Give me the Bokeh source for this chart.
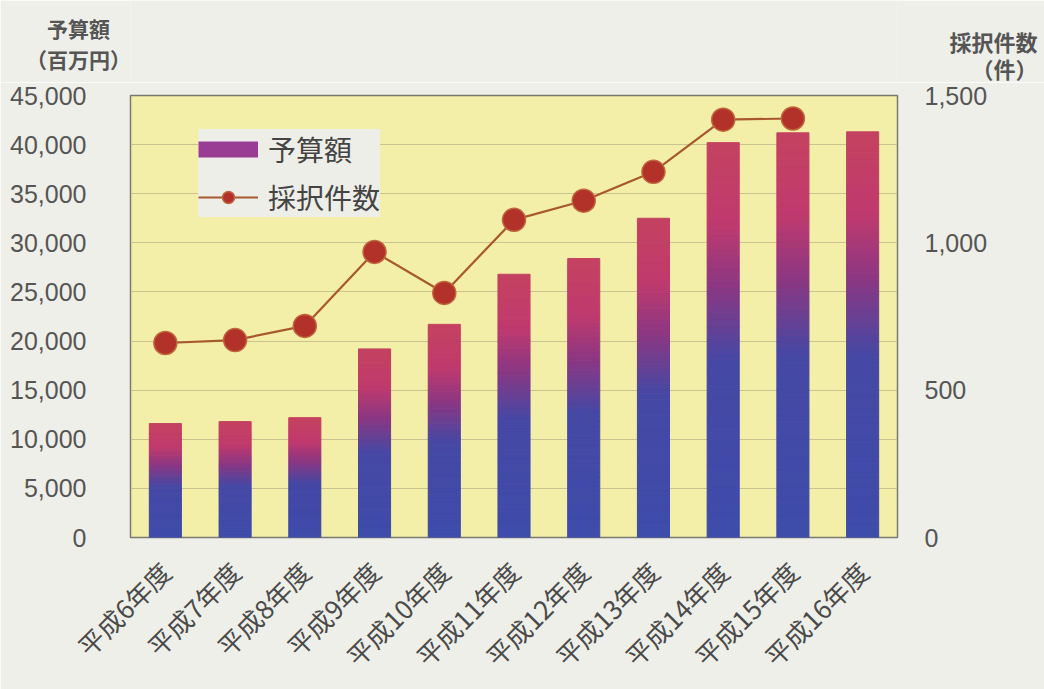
import numpy as np
from bokeh.plotting import figure
from bokeh.layouts import column
from bokeh.models import (FactorRange, Range1d, LinearAxis, FixedTicker, NumeralTickFormatter,
                          Label, Legend, LegendItem, ColumnDataSource)
from bokeh.embed import file_html
from bokeh.resources import INLINE

# ---- data ----
years = ["平成6年度", "平成7年度", "平成8年度", "平成9年度", "平成10年度", "平成11年度",
         "平成12年度", "平成13年度", "平成14年度", "平成15年度", "平成16年度"]
budget = [11600, 11800, 12200, 19200, 21700, 26800, 28400, 32500, 40200, 41200, 41300]
count_years = years[:10]
counts = [660, 670, 718, 969, 830, 1078, 1143, 1241, 1418, 1422]
left_ticks = [0, 5000, 10000, 15000, 20000, 25000, 30000, 35000, 40000, 45000]
right_ticks = [0, 500, 1000, 1500]

BG = "#efefe9"
W = 1044
TOP_H = 82
MAIN_H = 689 - TOP_H
FL, FR = 130, 147   # frame borders (left, right)

# ---- header strip with the axis titles (frames of both figures are aligned) ----
top = figure(width=W, height=TOP_H, output_backend="svg", toolbar_location=None,
             x_range=Range1d(FL, W - FR), y_range=Range1d(TOP_H, 0),
             x_axis_type=None, y_axis_type=None, min_border=0,
             background_fill_color=BG, border_fill_color=BG, outline_line_color=None)
top.grid.grid_line_color = None

top.add_layout(Label(x=78, y=43, text="予算額\n（百万円）", text_font="Noto Sans CJK JP",
                     text_font_size="21px", text_color="#555555", text_font_style="bold",
                     text_align="center", text_baseline="middle", text_line_height=1.05), "left")
top.add_layout(Label(x=1037, y=54, text="採択件数\n（件）", text_font="Noto Sans CJK JP",
                     text_font_size="22px", text_color="#555555", text_font_style="bold",
                     text_align="right", text_baseline="middle", text_line_height=0.85), "right")

# ---- main chart ----
p = figure(width=W, height=MAIN_H, output_backend="svg", toolbar_location=None,
           x_range=FactorRange(*years, range_padding=0), y_range=Range1d(0, 45000),
           min_border_left=FL, min_border_right=FR, min_border_top=95 - TOP_H,
           min_border_bottom=152)
p.extra_y_ranges = {"cnt": Range1d(0, 1500)}

p.background_fill_color = "#f3eea8"
p.border_fill_color = BG
p.outline_line_color = "#7a7a70"
p.outline_line_width = 1.5

# gradient bars (stacked thin segments from blue to pink-red)
def grad_color(t):
    stops = [(0.0, (62, 76, 170)), (0.45, (70, 72, 165)), (0.64, (140, 55, 130)),
             (0.8, (192, 58, 110)), (1.0, (196, 66, 96))]
    for (t0, c0), (t1, c1) in zip(stops[:-1], stops[1:]):
        if t <= t1:
            f = (t - t0) / (t1 - t0) if t1 > t0 else 0
            c = [int(round(a + (b - a) * f)) for a, b in zip(c0, c1)]
            return "#%02x%02x%02x" % tuple(c)
    return "#%02x%02x%02x" % stops[-1][1]

N = 60
xs, bots, tops, cols = [], [], [], []
for cat, v in zip(years, budget):
    for i in range(N):
        xs.append(cat)
        bots.append(v * i / N)
        tops.append(v * (i + 1) / N)
        cols.append(grad_color((i + 0.5) / N))
src = ColumnDataSource(dict(x=xs, bottom=bots, top=tops, color=cols))
p.vbar(x="x", bottom="bottom", top="top", width=0.46, fill_color="color", line_color="color",
       line_width=1, source=src)

# legend proxy for bars (thick swatch)
bar_proxy = p.line(x=[years[0]], y=[0], line_color="#983c94", line_width=16, line_cap="butt")

# line
ln = p.line(x=count_years, y=counts, y_range_name="cnt", line_color="#a8582e", line_width=2.2)
sc = p.scatter(x=count_years, y=counts, y_range_name="cnt", size=23, marker="circle",
               fill_color="#b2322a", line_color="#c0663c", line_width=1.5)

# y axes
p.yaxis.ticker = FixedTicker(ticks=left_ticks)
p.yaxis.formatter = NumeralTickFormatter(format="0,0")
ax_r = LinearAxis(y_range_name="cnt", ticker=FixedTicker(ticks=right_ticks),
                  formatter=NumeralTickFormatter(format="0,0"))
p.add_layout(ax_r, "right")

for ax in [p.yaxis[0], ax_r]:
    ax.axis_line_color = None
    ax.major_tick_line_color = None
    ax.minor_tick_line_color = None
    ax.major_label_text_font = "Liberation Sans"
    ax.major_label_text_font_size = "25px"
    ax.major_label_text_color = "#555555"
p.yaxis[0].major_label_standoff = 38
ax_r.major_label_standoff = 21

# x axis
p.xaxis.axis_line_color = None
p.xaxis.major_tick_line_color = None
p.xaxis.minor_tick_line_color = None
p.xaxis.major_label_orientation = np.pi / 4
p.xaxis.major_label_text_font = "Noto Sans CJK JP"
p.xaxis.major_label_text_font_size = "26px"
p.xaxis.major_label_text_color = "#4a4a4a"
p.xaxis.major_label_standoff = 23

p.xgrid.grid_line_color = None
p.ygrid.grid_line_color = "#b5b088"
p.ygrid.grid_line_alpha = 0.7
p.ygrid.grid_line_width = 1.2

legend = Legend(items=[LegendItem(label="予算額", renderers=[bar_proxy]),
                       LegendItem(label="採択件数", renderers=[ln, sc])],
                location=(68, 320), background_fill_color="#eeeee8", background_fill_alpha=1.0,
                border_line_color=None, label_text_font="Noto Sans CJK JP",
                label_text_font_size="28px", label_text_color="#444444",
                glyph_width=60, glyph_height=30, label_height=30, spacing=8, padding=8,
                margin=0, label_standoff=10)
p.add_layout(legend, "center")

layout = column(top, p, spacing=0)
open("out.html", "w").write(file_html(layout, INLINE))
